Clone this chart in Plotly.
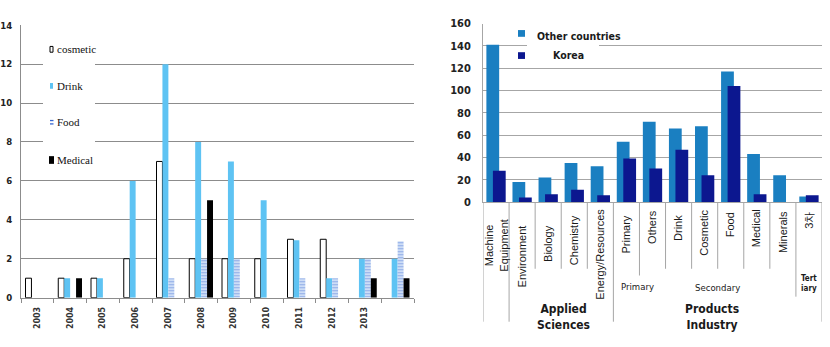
import plotly.graph_objects as go

# ---------------- data ----------------
years = ["2003", "2004", "2005", "2006", "2007", "2008", "2009", "2010", "2011", "2012", "2013", ""]
cosmetic = [1, 1, 1, 2, 7, 2, 2, 2, 3, 3, None, None]
drink = [None, 1, 1, 6, 12, 8, 7, 5, 2.95, 1, 2, 2]
food = [None, None, None, None, 1, 2, 2, None, 1, 1, 2, 2.9]
medical = [None, 1, None, None, None, 5, None, None, None, None, 1, 1]

fields = ["Machine<br>Equipment", "Environment", "Biology", "Chemistry", "Energy/Resources",
          "Primary", "Others", "Drink", "Cosmetic", "Food", "Medical", "Minerals", "3차"]
other_countries = [141, 18, 22, 35, 32, 54, 72, 66, 68, 117, 43, 24, 5]
korea = [28, 4, 7, 11, 6, 39, 30, 47, 24, 104, 7, None, 6]

# ---------------- helpers / styles ----------------
W, H = 830, 347
def px(x): return x / W
def py(y): return 1 - y / H

NARROW = "Liberation Sans Narrow, DejaVu Sans Condensed, Arial Narrow, sans-serif"
SANS = "Liberation Sans, Arial, sans-serif"
SERIF = "Liberation Serif, Times New Roman, serif"
C_DRINK = "#5ec3f3"
C_FOOD = "#3566d2"
C_OTHER = "#1a7fc1"
C_KOREA = "#0c178f"
GRID_L = "#8c8c8c"
GRID_R = "#a6a6a6"
TXT = "#1a1a1a"

fig = go.Figure()
xi = list(range(len(years)))
fig.add_bar(x=xi, y=cosmetic, name="cosmetic", xaxis="x", yaxis="y",
            marker=dict(color="white", line=dict(color="black", width=1)))
fig.add_bar(x=xi, y=drink, name="Drink", xaxis="x", yaxis="y",
            marker=dict(color=C_DRINK, line=dict(width=0)))
fig.add_bar(x=xi, y=food, name="Food", xaxis="x", yaxis="y",
            marker=dict(color="white", line=dict(width=0),
                        pattern=dict(shape="-", fgcolor=C_FOOD, bgcolor="#eaf3fd", size=3, solidity=0.55)))
fig.add_bar(x=xi, y=medical, name="Medical", xaxis="x", yaxis="y",
            marker=dict(color="black", line=dict(width=0)))

xf = list(range(len(fields)))
fig.add_bar(x=xf, y=other_countries, name="Other countries", xaxis="x2", yaxis="y2",
            offset=-0.37, width=0.49, marker=dict(color=C_OTHER, line=dict(width=0)))
fig.add_bar(x=xf, y=korea, name="Korea", xaxis="x2", yaxis="y2",
            offset=-0.12, width=0.49, marker=dict(color=C_KOREA, line=dict(width=0)))

fig.update_layout(
    width=W, height=H, margin=dict(l=0, r=0, t=0, b=0),
    paper_bgcolor="white", plot_bgcolor="white", showlegend=False,
    barmode="group", bargap=0.275, bargroupgap=0,
    xaxis=dict(domain=[px(21), px(414)], range=[-0.5, len(years) - 0.5], anchor="y",
               tickmode="array", tickvals=xi, ticktext=years, tickangle=-90, ticks="",
               ticklabelstandoff=5,
               tickfont=dict(family="DejaVu Sans", size=8, color="#333", weight="bold"),
               showgrid=False, zeroline=False, showline=True, linecolor=GRID_L, linewidth=1,
               minor=dict(tickmode="array", tickvals=[i - 0.5 for i in range(len(years) + 1)],
                          ticks="outside", ticklen=4, tickcolor=GRID_L, showgrid=False)),
    yaxis=dict(domain=[py(303), py(20)], range=[0, 14], dtick=2, anchor="x",
               showgrid=True, gridcolor=GRID_L, gridwidth=1.3, zeroline=False,
               showline=True, linecolor=GRID_L, linewidth=1, ticks="", ticklabelstandoff=6,
               tickfont=dict(family=NARROW, size=9.5, color="#222", weight="bold")),
    xaxis2=dict(domain=[px(483), px(822)], range=[-0.5, len(fields) - 0.5], anchor="y2",
                showticklabels=False, ticks="", showgrid=False, zeroline=False,
                showline=True, linecolor=GRID_R, linewidth=1),
    yaxis2=dict(domain=[py(203.7), py(18.3)], range=[0, 160], dtick=20, anchor="x2",
                showgrid=True, gridcolor=GRID_R, gridwidth=1, zeroline=False,
                showline=True, linecolor=GRID_R, linewidth=1, ticks="", ticklabelstandoff=9,
                tickfont=dict(family=NARROW, size=11, color="#222", weight="bold")),
)

shapes = []
annotations = []

# ---- left legend (masks gridlines) ----
shapes.append(dict(type="rect", xref="paper", yref="paper", x0=px(43), x1=px(95), y0=py(176), y1=py(36),
                   fillcolor="white", line=dict(width=0), layer="above"))
shapes.append(dict(type="rect", xref="paper", yref="paper", x0=px(50), x1=px(53), y0=py(48), y1=py(42),
                   fillcolor="white", line=dict(color="black", width=1), layer="above"))
shapes.append(dict(type="rect", xref="paper", yref="paper", x0=px(50), x1=px(53), y0=py(86), y1=py(80),
                   fillcolor=C_DRINK, line=dict(width=0), layer="above"))
for yy in (119, 122.5):
    shapes.append(dict(type="line", xref="paper", yref="paper", x0=px(50), x1=px(53.5), y0=py(yy), y1=py(yy),
                       line=dict(color=C_FOOD, width=1.3), layer="above"))
shapes.append(dict(type="rect", xref="paper", yref="paper", x0=px(49), x1=px(54), y0=py(164), y1=py(156),
                   fillcolor="black", line=dict(width=0), layer="above"))
for name, yy in zip(["cosmetic", "Drink", "Food", "Medical"], [45, 83, 121, 160]):
    annotations.append(dict(text=name, xref="paper", yref="paper", x=px(55), y=py(yy),
                            xanchor="left", yanchor="middle", showarrow=False,
                            font=dict(family=SERIF, size=11, color="#111")))

# ---- right legend ----
shapes.append(dict(type="rect", xref="paper", yref="paper", x0=px(527), x1=px(599), y0=py(46), y1=py(37),
                   fillcolor="white", line=dict(width=0), layer="above"))
shapes.append(dict(type="rect", xref="paper", yref="paper", x0=px(518), x1=px(525), y0=py(32), y1=py(25),
                   fillcolor=C_OTHER, line=dict(width=0), layer="above"))
shapes.append(dict(type="rect", xref="paper", yref="paper", x0=px(518), x1=px(525), y0=py(55), y1=py(48),
                   fillcolor=C_KOREA, line=dict(width=0), layer="above"))
annotations.append(dict(text="Other countries", xref="paper", yref="paper", x=px(535), y=py(31.5),
                        xanchor="left", yanchor="middle", showarrow=False,
                        font=dict(family=NARROW, size=10.5, color=TXT, weight="bold")))
annotations.append(dict(text="Korea", xref="paper", yref="paper", x=px(551), y=py(51),
                        xanchor="left", yanchor="middle", showarrow=False,
                        font=dict(family=NARROW, size=10.5, color=TXT, weight="bold")))

# ---- right multi-level category axis ----
div_bottom = {-0.5: 328, 0.5: 328, 4.5: 328, 12.5: 328, 11.5: 302, 5.5: 280}
for b in [k - 0.5 for k in range(len(fields) + 1)]:
    yb = div_bottom.get(b, 273)
    shapes.append(dict(type="line", xref="x2", yref="paper", x0=b, x1=b, y0=py(203.7), y1=py(yb),
                       line=dict(color=GRID_R, width=1)))

label_center_y = [249, 260, 247, 243, 258, 237, 230, 231, 236, 227, 231, 235, 222]
for i, (lab, cy) in enumerate(zip(fields, label_center_y)):
    annotations.append(dict(text=lab, xref="x2", yref="paper", x=i, y=py(cy), textangle=-90,
                            xanchor="center", yanchor="middle", showarrow=False,
                            font=dict(family=SANS, size=11, color=TXT)))

annotations.append(dict(text="Primary", xref="paper", yref="paper", x=px(637), y=py(291),
                        xanchor="center", yanchor="middle", showarrow=False,
                        font=dict(family=NARROW, size=9.5, color=TXT)))
annotations.append(dict(text="Secondary", xref="paper", yref="paper", x=px(717), y=py(292),
                        xanchor="center", yanchor="middle", showarrow=False,
                        font=dict(family=NARROW, size=9.5, color=TXT)))
annotations.append(dict(text="Tert<br>iary", xref="paper", yref="paper", x=px(809), y=py(288),
                        xanchor="center", yanchor="middle", showarrow=False,
                        font=dict(family=NARROW, size=8, color=TXT, weight="bold")))
annotations.append(dict(text="Applied<br>Sciences", xref="paper", yref="paper", x=px(563), y=py(323.5),
                        xanchor="center", yanchor="middle", showarrow=False,
                        font=dict(family=NARROW, size=12, color=TXT, weight="bold")))
annotations.append(dict(text="Products<br>Industry", xref="paper", yref="paper", x=px(712), y=py(323.5),
                        xanchor="center", yanchor="middle", showarrow=False,
                        font=dict(family=NARROW, size=12, color=TXT, weight="bold")))

fig.update_layout(shapes=shapes, annotations=annotations)
fig.write_html("out.html")
